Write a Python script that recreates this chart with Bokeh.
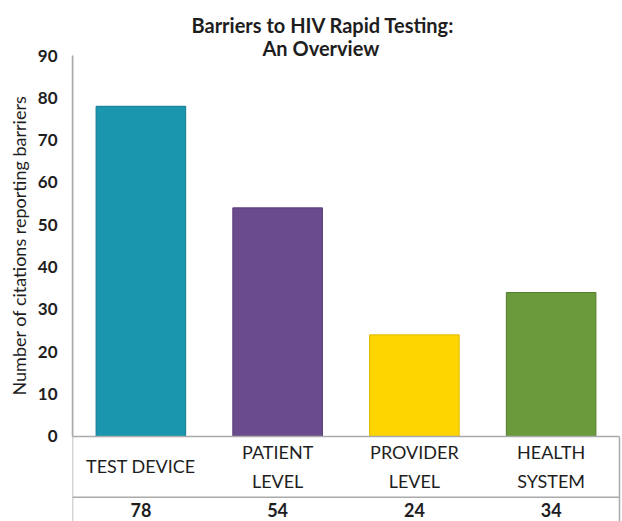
from bokeh.plotting import figure
from bokeh.models import Range1d, FactorRange, Span, Title, LinearAxis, FixedTicker, ColumnDataSource
from bokeh.core.properties import value
from bokeh.embed import file_html
from bokeh.resources import INLINE

# ---- data ----
categories = ["TEST DEVICE", "PATIENT LEVEL", "PROVIDER LEVEL", "HEALTH SYSTEM"]
category_labels = ["TEST DEVICE", "PATIENT\nLEVEL", "PROVIDER\nLEVEL", "HEALTH\nSYSTEM"]
citations = [78, 54, 24, 34]
bar_colors = ["#1b96af", "#6a4c8c", "#ffd500", "#6b9a3c"]
bar_edges = ["#137a8f", "#553a73", "#e0b800", "#557e2d"]
y_ticks = [0, 10, 20, 30, 40, 50, 60, 70, 80, 90]
title_lines = ["Barriers to HIV Rapid Testing:", "An Overview"]
y_label = "Number of citations reporting barriers"

FONT = "Lato"
GRAY = "#aaaaaa"
TXT = "#1e1e1e"

Y_MIN = -20.1
ROW_LINE = -14.4
CAT_Y = -7.1
VAL_Y = -17.5

src = ColumnDataSource(dict(cat=categories, lab=category_labels, val=citations,
                            vtxt=[str(v) for v in citations],
                            color=bar_colors, edge=bar_edges,
                            caty=[CAT_Y] * len(categories),
                            valy=[VAL_Y] * len(categories)))

p = figure(width=622, height=521, output_backend="svg", toolbar_location=None,
           x_range=FactorRange(*categories, range_padding=0),
           y_range=Range1d(Y_MIN, 90),
           min_border_left=72, min_border_right=3, min_border_top=55, min_border_bottom=0)
p.outline_line_color = None
p.xgrid.visible = False
p.ygrid.visible = False
p.xaxis.visible = False

p.vbar(x="cat", top="val", width=0.655, source=src, fill_color="color",
       line_color="edge", line_width=1)

# table / axis rules
p.add_layout(Span(location=0, dimension="width", line_color=GRAY, line_width=1.5))
p.add_layout(Span(location=ROW_LINE, dimension="width", line_color=GRAY, line_width=1.5))
p.add_layout(Span(location=0, dimension="height", line_color=GRAY, line_width=1.5))

right_axis = LinearAxis(bounds=(Y_MIN, 0), ticker=FixedTicker(ticks=[]),
                        major_tick_line_color=None, minor_tick_line_color=None,
                        major_label_text_font_size="0px", axis_line_color=GRAY,
                        axis_line_width=1.5)
p.add_layout(right_axis, "right")

ya = p.yaxis[0]
ya.ticker = FixedTicker(ticks=y_ticks)
ya.bounds = (0, 90)
ya.axis_line_color = GRAY
ya.axis_line_width = 1.5
ya.major_tick_line_color = None
ya.minor_tick_line_color = None
ya.major_label_text_font = FONT
ya.major_label_text_font_style = "bold"
ya.major_label_text_font_size = "17px"
ya.major_label_text_color = TXT
ya.major_label_standoff = 9

# y-axis title as a left-side Title so it can be centred on the 0-90 part
p.add_layout(Title(text=y_label, align="left", offset=126, standoff=10,
                   vertical_align="bottom", text_font=FONT, text_font_style="normal",
                   text_font_size="18px", text_color=TXT), "left")

p.text(x="cat", y="caty", text="lab", source=src, text_font=value(FONT),
       text_font_size="18px", text_color=TXT, text_align="center",
       text_baseline="middle", text_line_height=1.3)
p.text(x="cat", y="valy", text="vtxt", source=src, text_font=value(FONT),
       text_font_size="18px", text_font_style="bold", text_color=TXT,
       text_align="center", text_baseline="middle")

# title: second line added first (closest to the frame)
p.add_layout(Title(text=title_lines[1], align="left", offset=190, standoff=-9,
                   text_font=FONT, text_font_style="bold",
                   text_font_size="20px", text_color=TXT), "above")
p.add_layout(Title(text=title_lines[0], align="left", offset=119, standoff=3,
                   text_font=FONT, text_font_style="bold",
                   text_font_size="20px", text_color=TXT), "above")

open("out.html", "w").write(file_html(p, INLINE))
